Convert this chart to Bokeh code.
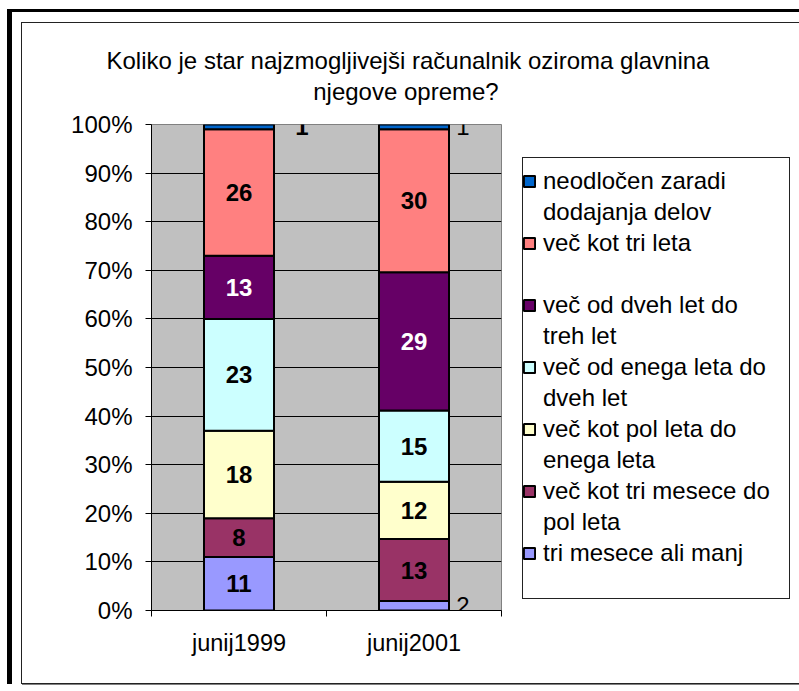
from bokeh.plotting import figure
from bokeh.layouts import column
from bokeh.models import (ColumnDataSource, FactorRange, Range1d, LinearAxis, CategoricalAxis,
                          FixedTicker, PrintfTickFormatter, Grid, Legend, LegendItem, Title)
from bokeh.core.properties import value
from bokeh.embed import file_html
from bokeh.resources import INLINE

FONT = "Liberation Sans"

# ---------------- data ----------------
categories = ["junij1999", "junij2001"]
tri_mesece_ali_manj = [11, 2]
vec_kot_tri_mesece_do_pol_leta = [8, 13]
vec_kot_pol_leta_do_enega_leta = [18, 12]
vec_od_enega_leta_do_dveh_let = [23, 15]
vec_od_dveh_let_do_treh_let = [13, 29]
vec_kot_tri_leta = [26, 30]
neodlocen_zaradi_dodajanja_delov = [1, 1]

y_ticks = [0, 10, 20, 30, 40, 50, 60, 70, 80, 90, 100]

title_line1 = "Koliko je star najzmogljivejši računalnik oziroma glavnina"
title_line2 = "njegove opreme?"

# stacking order: bottom -> top
series_keys = ["s1", "s2", "s3", "s4", "s5", "s6", "s7"]
series_values = {
    "s1": tri_mesece_ali_manj,
    "s2": vec_kot_tri_mesece_do_pol_leta,
    "s3": vec_kot_pol_leta_do_enega_leta,
    "s4": vec_od_enega_leta_do_dveh_let,
    "s5": vec_od_dveh_let_do_treh_let,
    "s6": vec_kot_tri_leta,
    "s7": neodlocen_zaradi_dodajanja_delov,
}
legend_lines = {
    "s1": ["tri mesece ali manj"],
    "s2": ["več kot tri mesece do", "pol leta"],
    "s3": ["več kot pol leta do", "enega leta"],
    "s4": ["več od enega leta do", "dveh let"],
    "s5": ["več od dveh let do", "treh let"],
    "s6": ["več kot tri leta", ""],
    "s7": ["neodločen zaradi", "dodajanja delov"],
}

# ---------------- styles / layout ----------------
colors = {
    "s1": "#9999FF", "s2": "#993366", "s3": "#FFFFCC", "s4": "#CCFFFF",
    "s5": "#660066", "s6": "#FF8080", "s7": "#0066CC",
}
label_colors = {"s5": "white"}
# labels drawn outside their (tiny) segment: (series, category) -> x offset in px
outside_labels = {("s7", "junij1999"): 63, ("s7", "junij2001"): 49, ("s1", "junij2001"): 49}
outside_bold = {("s7", "junij1999"): True}
FS = "24px"
NB = "\u00a0"
TITLE_INDENT = 31   # non-breaking spaces that centre the 2nd title line under the 1st

# ---------------- derived values ----------------
totals = [sum(series_values[k][i] for k in series_keys) for i in range(len(categories))]
pct = {k: [v / t * 100 for v, t in zip(series_values[k], totals)] for k in series_keys}

src = ColumnDataSource(dict(cat=categories, **pct))

in_x, in_y, in_t, in_c = [], [], [], []
out_x, out_y, out_t, out_dx, out_style = [], [], [], [], []
for i, cat in enumerate(categories):
    cum = 0.0
    for k in series_keys:
        mid = cum + pct[k][i] / 2
        cum += pct[k][i]
        txt = str(series_values[k][i])
        if (k, cat) in outside_labels:
            out_x.append(cat); out_y.append(mid); out_t.append(txt)
            out_dx.append(outside_labels[(k, cat)])
            out_style.append("bold" if outside_bold.get((k, cat)) else "normal")
        else:
            in_x.append(cat); in_y.append(mid); in_t.append(txt)
            in_c.append(label_colors.get(k, "black"))

# ---------------- figure ----------------
p = figure(x_range=FactorRange(*categories), y_range=Range1d(0, 100),
           frame_width=350, frame_height=486,
           min_border_left=129, min_border_right=292, min_border_top=101, min_border_bottom=73,
           output_backend="svg", toolbar_location=None,
           x_axis_location=None, y_axis_location=None,
           background_fill_color="#C0C0C0", border_fill_color=None,
           outline_line_color="#808080", outline_line_width=1)

p.add_layout(Title(text=title_line1 + "\n" + NB * TITLE_INDENT + title_line2,
                   align="left", offset=-45, standoff=38,
                   text_font=FONT, text_font_size=FS, text_font_style="normal",
                   text_color="black", text_line_height=1.17), "above")

p.center = [r for r in p.center if not isinstance(r, Grid)]
p.add_layout(Grid(dimension=1, ticker=FixedTicker(ticks=y_ticks[:-1]),
                  grid_line_color="black", grid_line_width=1), "center")

yaxis = LinearAxis(ticker=FixedTicker(ticks=y_ticks), formatter=PrintfTickFormatter(format="%d%%"),
                   major_tick_out=6, major_tick_in=0, minor_tick_out=0, minor_tick_in=0,
                   major_label_standoff=13, major_label_text_font=FONT,
                   major_label_text_font_size=FS, major_label_text_color="black",
                   axis_line_color="black", major_tick_line_color="black")
p.add_layout(yaxis, "left")

# tick marks at the category boundaries (synthetic coordinates 0..n of the factor range)
tick_axis = LinearAxis(ticker=FixedTicker(ticks=list(range(len(categories) + 1))),
                       major_tick_out=6, major_tick_in=0, minor_tick_out=0, minor_tick_in=0,
                       major_label_text_font_size="1px", major_label_text_color=None,
                       major_label_standoff=0, axis_line_color="black",
                       major_tick_line_color="black")
cat_axis = CategoricalAxis(major_tick_line_color=None, major_tick_out=0, major_tick_in=0,
                           axis_line_color=None, major_label_standoff=13,
                           major_label_text_font=FONT, major_label_text_font_size="23.5px",
                           major_label_text_color="black")
p.add_layout(tick_axis, "below")
p.add_layout(cat_axis, "below")

bars = p.vbar_stack(series_keys, x="cat", width=0.4, source=src,
                    fill_color=[colors[k] for k in series_keys], line_color="black", line_width=2)
# invisible renderer used by the continuation lines of the legend (no swatch)
blank = p.vbar(x="x", top="top", width=0.4, source=ColumnDataSource(dict(x=[], top=[])),
               fill_alpha=0, line_alpha=0)

p.text(x="x", y="y", text="t", text_color="c",
       source=ColumnDataSource(dict(x=in_x, y=in_y, t=in_t, c=in_c)),
       text_align="center", text_baseline="middle", text_font=value(FONT),
       text_font_size=FS, text_font_style="bold")
p.text(x="x", y="y", text="t", x_offset="dx", text_font_style="s",
       source=ColumnDataSource(dict(x=out_x, y=out_y, t=out_t, dx=out_dx, s=out_style)),
       text_align="center", text_baseline="middle", text_font=value(FONT),
       text_font_size=FS, text_color="black")

# one legend row per text line: the swatch sits on the first line of each entry
items = []
for k, r in reversed(list(zip(series_keys, bars))):
    first, *rest = legend_lines[k]
    items.append(LegendItem(label=first, renderers=[r]))
    for extra in rest:
        items.append(LegendItem(label=extra if extra else NB, renderers=[blank]))

legend = Legend(items=items, location=(21, 43), orientation="vertical",
                glyph_width=14, glyph_height=14, label_standoff=7, label_width=232,
                label_height=28, padding=7, spacing=3, margin=0,
                label_text_font=FONT, label_text_font_size=FS, label_text_color="black",
                border_line_color=None, background_fill_alpha=0)
p.add_layout(legend, "right")

# legend frame (page px 522..789 x 157..598), drawn behind the transparent canvas border
line = "linear-gradient(#222222,#222222)"
legend_frame = ", ".join([
    f"{line} 500px 134px / 268px 1px no-repeat",
    f"{line} 500px 575px / 268px 1px no-repeat",
    f"{line} 500px 134px / 1px 442px no-repeat",
    f"{line} 767px 134px / 1px 442px no-repeat",
])

inner = column(p, margin=(10, 0, 0, 9),
               styles={"border": "1px solid #222222", "box-shadow": "1px 1px 0 #808080",
                       "background": legend_frame + ", white"})
outer = column(inner, margin=(9, 0, 0, 7),
               styles={"border-left": "5px solid black", "border-top": "3px solid black"})

open("out.html", "w").write(file_html(outer, INLINE))
